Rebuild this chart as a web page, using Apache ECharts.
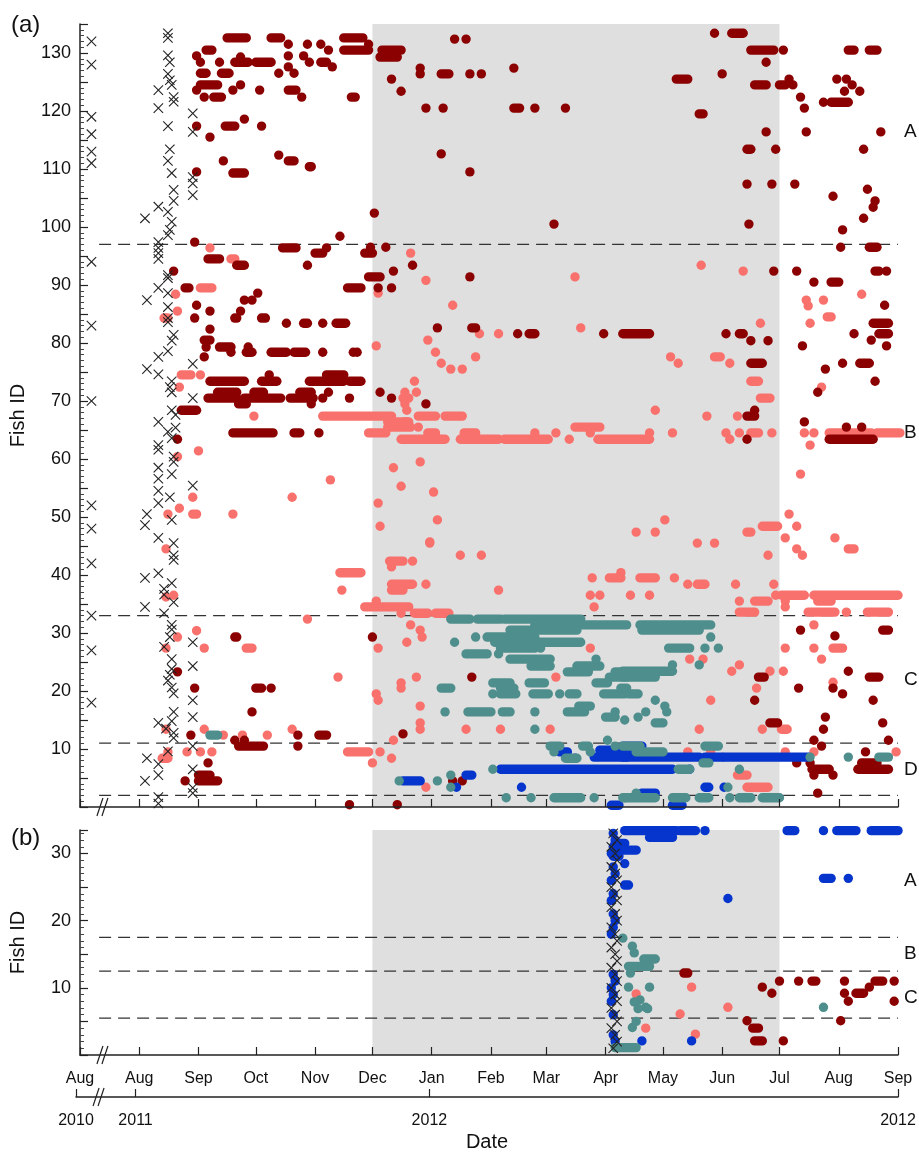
<!DOCTYPE html>
<html>
<head>
<meta charset="utf-8">
<title>Fish detections</title>
<script src="https://cdn.jsdelivr.net/npm/echarts@6.0.0/dist/echarts.min.js"></script>
<style>
  html, body { margin: 0; padding: 0; background: #fff; }
  #chart { width: 919px; height: 1157px; }
</style>
</head>
<body>
<div id="chart"></div>
<script>
// all dates are days counted from 1 Aug 2011; the 2010 release sits left of the axis break
const monthTicks = [-31, 0, 31, 61, 92, 122, 153, 184, 213, 244, 274, 305, 335, 366, 397];
const monthLabels = ['Aug', 'Aug', 'Sep', 'Oct', 'Nov', 'Dec', 'Jan', 'Feb', 'Mar', 'Apr', 'May', 'Jun', 'Jul', 'Aug', 'Sep'];
const yearTicks = [-31, 0, 153, 397];
const yearLabels = ['2010', '2011', '2012', '2012'];
const shadedPeriod = [[122, 335]];  // 1 Dec 2011 - 1 Jul 2012

const boundsA = [97, 33, 11, 2];
const boundsB = [17.5, 12.5, 5.5];
const groupNamesA = ['A', 'B', 'C', 'D'];
const groupPosA = [116.5, 64.5, 22, 6.5];
const groupNamesB = ['A', 'B', 'C'];
const groupPosB = [26, 15, 8.5];

// tagging events [fish id, day]
const taggedA = [
  [132, -25], [128, -25], [119, -25], [116, -25], [113, -25], [111, -25], [94, -25], [83, -25], [70, -25],
  [52, -25], [48, -25], [42, -25], [33, -25], [27, -25], [18, -25],
  [101.5, 3], [103.5, 10], [123.6, 10], [120.5, 10], [117.4, 15], [133.4, 15], [132.6, 15], [129.6, 15], [128.4, 16],
  [126.4, 15], [125.3, 16], [124.5, 17], [122.4, 18], [121.6, 18], [111.4, 15], [113.4, 16], [109.3, 17], [106.4, 18],
  [104.5, 18], [102.6, 15], [100.9, 17], [99.5, 16], [98.6, 15], [97.4, 10], [96.4, 10], [95.5, 10], [94.5, 10],
  [91.7, 15], [119.6, 28], [116.4, 28], [108.6, 28], [107.5, 28], [105.5, 28],
  [87.4, 4], [89.5, 10], [91.2, 15], [88.6, 15], [86.2, 15], [84.3, 15], [83.6, 15], [81.4, 18], [80.4, 17], [78.6, 15],
  [77.6, 10], [75.5, 4], [74.6, 10], [73.4, 17], [72.4, 16], [71.5, 17], [76.4, 28], [70.5, 28], [68.4, 17], [67.6, 19],
  [66.4, 10], [65.4, 19], [64.7, 15], [63.6, 17], [62.4, 10], [61.6, 10], [60.4, 18], [59.5, 18], [58.5, 10], [57.4, 17],
  [56.6, 10], [54.5, 10], [53.4, 16], [52.4, 10], [55.4, 28], [50.5, 4], [48.6, 3], [49.5, 17], [46.4, 10], [45.5, 18],
  [43.4, 18], [42.6, 18], [40.3, 10], [39.5, 3], [38.6, 17], [37.6, 13], [36.6, 13], [35.3, 18], [34.5, 3], [33.4, 13],
  [31.4, 17], [30.6, 17], [29.3, 16], [27.6, 13], [25.5, 17], [23.8, 17], [22.8, 16], [21.8, 15], [20.6, 17], [19.6, 18],
  [16.4, 18], [14.8, 17], [14.5, 10], [13.5, 14], [12.8, 18], [11.9, 18], [8.4, 4], [7.4, 10], [5.5, 10], [4.5, 3],
  [1.7, 10], [0.6, 10], [28.4, 28], [24.3, 28], [18.4, 28], [15.5, 28], [10.5, 28], [6.5, 28], [3.3, 28], [2.4, 28], [9.6, 15]
];
const taggedB = [
  [33, 248], [32, 250], [31, 247], [30, 249], [29, 250], [28, 247], [27, 249], [26, 250], [25, 247], [24, 249], [23, 250],
  [22, 247], [21, 249], [20, 250], [19, 247], [18, 249], [17, 250], [16, 247], [15, 249], [14, 250], [13, 247], [12, 249],
  [11, 250], [10, 247], [9, 249], [8, 250], [7, 247], [6, 249], [5, 250], [4, 247], [3, 249], [2, 250], [1, 248]
];

// detections [fish id, first day, last day] (single day when last is missing)
const darkRedA = [
  [129.5, 30], [128.4, 32], [130.5, 35, 38], [126.5, 32, 35], [123.6, 30], [124.5, 32, 41], [122.4, 34], [122.4, 39, 43],
  [128.4, 42], [126.5, 43, 47], [132.6, 46, 56], [128.4, 50, 57], [129.3, 53], [123.6, 49], [124.5, 53], [128.4, 61, 69],
  [123.6, 63], [132.6, 69, 74], [126.5, 73], [131.5, 78], [129.5, 78], [127.6, 78], [126.5, 81], [123.6, 78, 82],
  [122.4, 85], [129.5, 86], [128.4, 89], [131.5, 88], [131.5, 95], [130.5, 99], [128.4, 95, 98], [127.6, 101],
  [132.6, 107, 117], [130.5, 107, 120], [131.5, 120], [122.4, 111, 113],
  [117.4, 30], [115.5, 37], [117.4, 45, 50], [118.6, 55], [117.4, 64], [111.4, 44], [109.3, 49, 55], [112.4, 73],
  [111.4, 78, 81], [110.4, 89, 90], [109.5, 30],
  [97.4, 29], [94.5, 36, 42], [93.4, 51, 55], [96.4, 75, 82], [93.4, 88], [95.5, 92, 96], [96.4, 98], [98.4, 105], [92.4, 18],
  [130.5, 127, 137], [129.3, 126, 135], [132.4, 165], [132.4, 171], [127.4, 147], [126.4, 147], [126.4, 158, 162],
  [126.4, 173], [126.4, 179], [127.4, 196], [125.5, 132], [123.4, 137], [120.5, 150], [120.5, 159], [120.5, 196, 199],
  [120.5, 207], [120.5, 223], [112.6, 158], [109.5, 173], [102.4, 123], [100.5, 217],
  [95.5, 118, 122], [96.5, 121], [96.5, 129], [93.4, 143], [92.4, 133], [91.4, 120, 126], [91.4, 173],
  [133.4, 301], [133.4, 310, 316], [130.5, 320, 332], [130.5, 337], [130.5, 371, 374], [130.5, 382, 386], [128.4, 328],
  [125.5, 281, 287], [126.4, 305], [124.5, 322, 328], [124.5, 335, 338], [125.5, 340], [124.5, 342], [122.4, 346],
  [120.5, 348], [121.5, 358], [121.5, 362, 371], [125.5, 365], [125.5, 370], [124.5, 373], [123.4, 369], [123.4, 377],
  [119.5, 293, 295], [116.4, 328], [116.4, 349], [116.4, 388], [113.4, 318, 320], [113.4, 333], [113.4, 379],
  [107.4, 318], [107.4, 331], [107.4, 343], [105.3, 363], [106.5, 381], [104.5, 385], [103.4, 384], [101.5, 379],
  [99.5, 368], [100.5, 319], [96.5, 367], [96.5, 382, 386], [92.4, 332], [92.4, 344], [92.4, 385, 387], [92.4, 391],
  [89.5, 24, 26], [86.5, 30], [85.5, 37], [84.3, 29], [82.4, 37], [80.5, 34, 37], [79.3, 35], [77.6, 34], [84.3, 50, 51],
  [85.5, 53], [87.4, 55], [87.4, 59], [88.6, 62], [84.3, 64, 66], [83.4, 77], [83.4, 86, 88], [83.4, 96], [83.4, 103, 108],
  [79.3, 42, 48], [78.4, 48], [78.4, 56, 59], [79.3, 57], [78.4, 69, 77], [78.4, 81, 87], [78.4, 96], [78.4, 112],
  [73.4, 37, 55], [73.4, 64, 72], [73.4, 89, 107], [74.5, 98, 107], [74.5, 68], [73.4, 110, 116], [70.5, 36, 51],
  [70.5, 55, 74], [70.5, 79, 91], [70.5, 96], [70.5, 110], [71.5, 41, 51], [71.5, 60, 65], [71.5, 84, 90], [71.5, 99],
  [69.5, 52, 56], [69.5, 90], [68.4, 22, 30], [63.4, 20], [64.5, 49, 70], [64.5, 81, 84], [64.5, 94], [89.5, 109, 116],
  [89.5, 125], [89.5, 132], [82.6, 156], [82.6, 174, 176], [81.6, 198], [81.6, 204, 207], [81.6, 243], [81.6, 253, 267],
  [78.4, 114], [71.5, 126], [70.5, 132], [69.5, 150],
  [81.6, 307], [81.6, 314, 316], [80.4, 320], [80.4, 329], [76.5, 320, 326], [67.4, 318, 322], [68.4, 322], [63.4, 318],
  [90.5, 353], [90.5, 362, 366], [86.5, 390], [83.4, 384, 392], [81.6, 387, 392], [81.6, 374], [80.5, 383], [79.5, 391],
  [79.5, 347], [76.5, 368], [76.5, 377, 382], [73.4, 385], [75.5, 359], [71.5, 355], [66.4, 348], [63.4, 361, 384],
  [65.5, 370], [65.5, 378],
  [23.3, 20], [29.3, 50, 51], [20.5, 29], [20.5, 61, 64], [20.5, 69], [16.4, 59], [12.4, 27], [11.5, 50], [11.5, 55],
  [10.5, 52, 65], [12.4, 83], [10.5, 83], [12.4, 94, 98], [4.5, 24], [5.5, 31, 37], [4.5, 31, 41], [7.6, 36], [0.4, 110],
  [29.3, 122], [22.4, 174], [12.6, 138], [4.5, 164], [4.5, 169], [0.4, 135],
  [30.5, 346], [29.5, 364], [30.5, 389, 392], [22.4, 324, 327], [18.4, 322], [20.5, 345], [20.5, 363], [19.5, 368],
  [23.4, 371], [22.4, 382, 387], [18.4, 384], [14.5, 330, 334], [15.5, 359], [13.4, 358], [14.5, 389], [11.5, 353],
  [10.5, 357], [11.5, 392], [9.5, 380], [7.6, 344], [7.6, 351], [6.5, 352, 361], [5.5, 353], [5.5, 363], [6.5, 376, 392],
  [7.6, 378, 386], [2.4, 355]
];
const salmonA = [
  [96.4, 37], [94.5, 48, 50], [95.5, 142], [91.4, 228], [90.8, 150], [93.4, 294], [92.4, 316],
  [88.4, 19], [85.5, 20], [84.3, 13, 15], [89.5, 32, 38], [74.5, 22, 27], [74.5, 32], [72.4, 21], [67.4, 60],
  [67.4, 96, 132], [61.4, 31], [60.4, 20], [56.4, 100], [53.4, 80], [53.4, 28], [51.5, 21], [50.5, 15], [50.5, 28, 30],
  [50.5, 49],
  [88.6, 125], [86.5, 164], [79.5, 124], [80.5, 151], [78.4, 155], [76.5, 158], [75.5, 163], [75.5, 169], [77.6, 176],
  [81.6, 178], [81.6, 188], [82.6, 231], [73.4, 144], [71.5, 139], [71.5, 145], [70.5, 138, 141], [69.5, 139],
  [68.4, 140], [66.4, 139, 141], [65.5, 130, 142], [66.4, 130, 140], [64.5, 120, 129], [67.4, 146, 155],
  [67.4, 160, 169], [65.5, 146], [63.4, 137, 160], [64.5, 151, 155], [63.4, 168, 188], [64.5, 170, 176],
  [63.4, 191, 214], [64.5, 207], [64.5, 218], [63.4, 225], [65.5, 228, 241], [64.5, 236], [63.4, 240, 267],
  [58.5, 133], [59.5, 147], [55.3, 137], [54.3, 154], [52.4, 125], [49.5, 156], [48.4, 126], [45.7, 152],
  [83.4, 325], [87.4, 349], [86.4, 350], [87.4, 358], [88.4, 378], [83.4, 351], [84.5, 360, 362], [77.6, 278],
  [76.5, 282], [77.6, 301, 304], [76.5, 309], [73.4, 320, 324], [70.5, 325, 330], [72.4, 357], [68.4, 270],
  [67.4, 297], [67.4, 313], [64.5, 267], [64.5, 279], [64.5, 307], [63.4, 309], [64.5, 314], [64.5, 320, 324],
  [64.5, 331], [64.5, 348], [64.5, 353], [64.5, 361, 383], [64.5, 386, 398], [62.4, 351], [57.4, 346], [50.5, 340],
  [48.4, 344], [46.4, 338], [46.4, 364], [49.5, 275], [47.4, 270], [47.4, 260], [45.5, 292], [45.5, 301],
  [47.4, 318, 320], [48.4, 326, 334],
  [44.5, 14], [40.4, 105, 116], [37.4, 106], [36.2, 14], [36.5, 18], [32.4, 88], [30.4, 30], [29.3, 20], [27.4, 34],
  [27.4, 56, 59], [27.4, 14], [22.4, 104], [13.4, 14], [13.4, 34], [9.5, 25], [9.5, 32], [9.5, 38], [8.4, 12, 15],
  [9.5, 15], [12.4, 44], [12.4, 54], [12.4, 67], [13.4, 80], [9.5, 109, 120],
  [42.4, 131, 138], [41.4, 132], [42.4, 143], [43.4, 168], [43.4, 179], [45.5, 152], [38.4, 132, 143],
  [37.4, 132, 138], [38.4, 150], [37.4, 188], [34.5, 118, 141], [35.5, 124], [33.4, 144, 151], [33.4, 155, 162],
  [33.4, 137], [31.4, 142], [30.5, 147], [29.3, 148], [28.4, 140], [27.4, 125], [22.4, 145], [21.4, 137], [20.5, 137],
  [19.5, 124], [18.4, 125], [17.4, 147], [14.5, 147], [13.4, 147], [13.4, 171], [13.4, 189], [13.4, 215], [22.4, 218],
  [27.4, 236], [11.5, 133], [9.5, 126], [8.4, 132], [7.6, 122], [3.4, 150], [39.5, 237], [39.5, 246, 252], [40.4, 252],
  [36.5, 236], [36.5, 241], [34.5, 238],
  [43.4, 329], [44.5, 344], [43.4, 347], [44.5, 371, 374], [39.5, 262, 270], [39.5, 280], [38.4, 287], [38.4, 292, 296],
  [38.4, 312], [38.4, 332], [36.5, 257], [36.5, 267], [35.5, 314], [35.5, 322, 329], [36.5, 333], [36.5, 336, 348],
  [35.5, 338], [34.5, 338], [36.5, 353, 397], [35.5, 355, 362], [33.6, 314, 322], [33.6, 350, 364], [33.6, 370],
  [33.6, 381, 392], [31.4, 353], [27.4, 338], [27.4, 353], [27.4, 363, 368], [25.5, 357], [25.5, 288], [25.5, 295],
  [23.4, 310], [24.5, 314], [23.4, 330], [23.4, 337], [20.5, 323], [21.5, 363], [18.4, 299], [13.4, 293], [13.4, 326],
  [13.4, 336, 339], [9.5, 287], [9.5, 299], [9.5, 338], [9.5, 353], [9.5, 396], [5.5, 313, 318], [3.4, 318, 329]
];
const tealA = [
  [12.4, 37, 41],
  [32.4, 163, 173], [32.4, 177, 189], [32.4, 191, 231], [31.4, 207, 255], [30.5, 194, 229], [29.3, 182, 207],
  [28.4, 186, 231], [28.4, 165], [29.3, 176], [27.4, 189, 207], [27.4, 210], [26.4, 171, 182], [26.4, 188],
  [25.5, 194, 215], [24.3, 205, 215], [23.3, 224, 235], [24.3, 229, 241], [25.5, 239], [22.4, 246, 255],
  [23.3, 249, 255], [20.5, 158, 163], [21.4, 185, 194], [20.5, 189, 196], [19.5, 185], [19.5, 189, 197],
  [21.4, 204, 212], [19.5, 206, 214], [19.5, 220], [19.5, 225, 229], [21.4, 239, 245], [19.5, 243, 254],
  [20.5, 252, 255], [16.4, 160], [16.4, 172, 184], [16.4, 190, 194], [16.4, 207], [16.4, 224, 233], [17.4, 230, 236],
  [15.5, 244, 249], [16.4, 249], [15, 254], [13.4, 207],
  [31.4, 262, 299], [30.5, 263, 293], [29.3, 299], [27.4, 277, 288], [27.4, 296], [27.4, 303], [24.5, 293],
  [23.4, 253, 279], [22.4, 253, 270], [24.5, 279], [19.5, 256, 261], [18.4, 270], [17.4, 275], [16.4, 276],
  [16.4, 265], [15.5, 261], [14.5, 270, 274],
  [4.5, 136], [4.5, 156], [5.5, 163], [3.4, 163], [6.5, 185], [1.6, 192], [1.6, 205], [1.6, 217, 231], [1.6, 238],
  [1.6, 254], [10.5, 215, 220], [9.5, 217], [8.4, 223, 229], [10.5, 232, 235], [11.5, 245], [9.5, 236], [10.5, 249],
  [10.5, 253, 262], [9.5, 260, 274], [10.5, 296, 303], [7.6, 295, 298], [6.5, 282, 288], [6.5, 314], [8.6, 351],
  [8.6, 371], [8.6, 387, 392], [3.4, 308], [2.4, 260], [1.6, 253, 270], [1.6, 279, 286], [1.6, 293, 298], [1.6, 309],
  [1.6, 314, 320], [1.6, 326, 335]
];
const blueA = [
  [4.5, 138, 147], [3.4, 166], [5.5, 171, 174], [6.5, 189, 279], [6.5, 288], [3.4, 200], [0.3, 247, 251],
  [9.5, 220, 224], [8.4, 228], [8.6, 238, 255], [9.8, 241, 255], [8.6, 253, 293], [9.8, 253, 263], [10.5, 253, 263],
  [8.6, 296, 305], [8.6, 306, 350], [2.4, 263, 270], [3.4, 296, 298], [3.4, 306], [0.3, 279, 284]
];

const blueB = [
  [33.4, 254, 281], [32.4, 267, 279], [33.4, 283, 291], [33.4, 296], [31.5, 249, 254], [30.5, 250, 260], [28.5, 254],
  [29.6, 248, 251], [25.3, 254, 256], [23.3, 308], [33.4, 339, 343], [33.4, 358], [33.4, 365, 375], [33.4, 383, 397],
  [26.3, 358, 362], [26.3, 371], [2.1, 263], [2.1, 289],
  [33, 248], [32, 249], [31, 248], [30, 247], [28, 248], [27, 249], [26, 247], [24, 248], [23, 247], [21, 248],
  [20, 249], [19, 248], [18, 247], [12, 248], [11, 249], [10, 247], [9, 248], [8, 247], [6, 248], [3, 248], [2, 249]
];
const tealB = [
  [17.4, 253], [16.2, 258], [15.2, 259], [14.3, 264, 270], [13.2, 256, 267], [12.2, 257], [10.1, 256], [10.1, 267],
  [8.2, 262], [7.1, 265], [7.1, 358], [1.1, 249, 260], [4.1, 258], [5, 260], [6.9, 261], [7.9, 259], [6.9, 266]
];
const salmonB = [
  [10.1, 289], [9.1, 260], [7.1, 308], [4, 265], [6.1, 283], [3.1, 291]
];
const darkRedB = [
  [12.2, 285, 287], [10.1, 326], [9.2, 331], [11, 335], [11, 345], [11, 352, 354], [11, 369], [9.2, 369], [8, 371],
  [9.2, 375, 379], [10.1, 382], [11, 385, 389], [11, 395], [8, 395], [5.1, 318], [4, 321, 324], [2.1, 322, 326],
  [2.1, 337], [5.1, 367]
];

const FONT = 'Liberation Sans, Arial, sans-serif';
const DOT = 4.7;
const X_MIN = -31;
const X_MAX = 397;
const BREAK_AT = -19;      // where the // marks sit
const LINE_START = -21;    // dashed group lines start here

const norm = rows => rows.map(r => [r[0], r[1], r.length > 2 ? r[2] : r[1]]);

function runSeries (rows, color, panel) {
  return {
    type: 'custom',
    xAxisIndex: panel,
    yAxisIndex: panel,
    z: 4,
    silent: true,
    data: norm(rows),
    encode: { x: [1, 2], y: 0 },
    renderItem (params, api) {
      const a = api.coord([api.value(1), api.value(0)]);
      const b = api.coord([api.value(2), api.value(0)]);
      return {
        type: 'rect',
        shape: { x: a[0] - DOT, y: a[1] - DOT, width: b[0] - a[0] + DOT * 2, height: DOT * 2, r: DOT },
        style: { fill: color }
      };
    }
  };
}

function crossSeries (rows, panel) {
  return {
    type: 'custom',
    xAxisIndex: panel,
    yAxisIndex: panel,
    z: 6,
    silent: true,
    data: rows.map(r => [r[1], r[0]]),
    encode: { x: 0, y: 1 },
    renderItem (params, api) {
      const p = api.coord([api.value(0), api.value(1)]);
      const s = 4.7;
      const st = { stroke: '#222', lineWidth: 1.1 };
      return {
        type: 'group',
        children: [
          { type: 'line', shape: { x1: p[0] - s, y1: p[1] - s, x2: p[0] + s, y2: p[1] + s }, style: st },
          { type: 'line', shape: { x1: p[0] - s, y1: p[1] + s, x2: p[0] + s, y2: p[1] - s }, style: st }
        ]
      };
    }
  };
}

function shadeSeries (panel, top) {
  return {
    type: 'custom',
    xAxisIndex: panel,
    yAxisIndex: panel,
    z: 1,
    silent: true,
    data: shadedPeriod,
    encode: { x: [0, 1] },
    renderItem (params, api) {
      const a = api.coord([api.value(0), top]);
      const b = api.coord([api.value(1), 0]);
      return {
        type: 'rect',
        shape: { x: a[0], y: a[1], width: b[0] - a[0], height: b[1] - a[1] },
        style: { fill: '#dfdfdf' }
      };
    }
  };
}

function boundSeries (bounds, panel) {
  return {
    type: 'custom',
    xAxisIndex: panel,
    yAxisIndex: panel,
    z: 2,
    silent: true,
    data: bounds.map(v => [LINE_START, X_MAX, v]),
    encode: { x: [0, 1], y: 2 },
    renderItem (params, api) {
      const a = api.coord([api.value(0), api.value(2)]);
      const b = api.coord([api.value(1), api.value(2)]);
      return {
        type: 'line',
        shape: { x1: a[0], y1: a[1], x2: b[0], y2: b[1] },
        style: { stroke: '#333', lineWidth: 1.2, lineDash: [12, 7] }
      };
    }
  };
}

function dateAxis (grid, ticks, labels, extra) {
  return Object.assign({
    gridIndex: grid,
    type: 'value',
    min: X_MIN,
    max: X_MAX,
    z: 10,
    axisLine: { onZero: false, lineStyle: { color: '#222', width: 1.5 } },
    axisTick: { inside: true, length: 8, customValues: ticks, lineStyle: { color: '#222', width: 1.2 } },
    axisLabel: labels ? {
      customValues: ticks,
      formatter: v => labels[ticks.indexOf(v)],
      fontSize: 16,
      fontFamily: FONT,
      color: '#111',
      margin: 16,
      hideOverlap: false
    } : { show: false },
    splitLine: { show: false }
  }, extra || {});
}

function idAxis (grid, max, extra) {
  return Object.assign({
    gridIndex: grid,
    type: 'value',
    min: 0,
    max: max,
    interval: 5,
    z: 10,
    axisLine: { show: true, onZero: false, lineStyle: { color: '#222', width: 1.5 } },
    axisTick: { show: true, inside: true, length: 8, lineStyle: { color: '#222', width: 1.2 } },
    minorTick: { show: true, inside: true, splitNumber: 5, length: 4, lineStyle: { color: '#444' } },
    axisLabel: {
      formatter: v => (v > 0 && v % 10 === 0) ? String(v) : '',
      fontSize: 18,
      fontFamily: FONT,
      color: '#111',
      margin: 9
    },
    splitLine: { show: false },
    name: 'Fish ID',
    nameLocation: 'middle',
    nameGap: 52,
    nameRotate: 90,
    nameTextStyle: { fontSize: 20, fontFamily: FONT, color: '#111' }
  }, extra || {});
}

const chart = echarts.init(document.getElementById('chart'), null, { renderer: 'canvas' });

chart.setOption({
  animation: false,
  backgroundColor: '#fff',
  grid: [
    { left: 76, right: 21, top: 24, height: 783 },
    { left: 76, right: 21, top: 830, height: 225 },
    { left: 76, right: 21, top: 1096, height: 1 }
  ],
  xAxis: [
    dateAxis(0, monthTicks, null),
    dateAxis(1, monthTicks, monthLabels),
    dateAxis(2, yearTicks, yearLabels, {
      name: 'Date',
      nameLocation: 'middle',
      nameGap: 35,
      nameTextStyle: { fontSize: 20, fontFamily: FONT, color: '#111' }
    })
  ],
  yAxis: [
    idAxis(0, 135),
    idAxis(1, 33.5),
    { gridIndex: 2, type: 'value', min: 0, max: 1, show: false }
  ],
  series: [
    shadeSeries(0, 135),
    boundSeries(boundsA, 0),
    runSeries(salmonA, '#f8716c', 0),
    runSeries(darkRedA, '#8b0000', 0),
    runSeries(blueA, '#0535cc', 0),
    runSeries(tealA, '#4e8e8c', 0),
    crossSeries(taggedA, 0),

    shadeSeries(1, 33.5),
    boundSeries(boundsB, 1),
    runSeries(salmonB, '#f8716c', 1),
    runSeries(darkRedB, '#8b0000', 1),
    runSeries(blueB, '#0535cc', 1),
    runSeries(tealB, '#4e8e8c', 1),
    crossSeries(taggedB, 1)
  ]
});

// axis break marks, panel letters and group labels need pixel positions
const graphics = [];
[0, 1, 2].forEach(g => {
  const p = chart.convertToPixel({ gridIndex: g }, [BREAK_AT, 0]);
  graphics.push({
    type: 'group',
    z: 20,
    children: [
      { type: 'rect', shape: { x: p[0] - 3, y: p[1] - 2, width: 5, height: 4 }, style: { fill: '#fff' } },
      { type: 'line', shape: { x1: p[0] - 6, y1: p[1] + 9, x2: p[0], y2: p[1] - 9 }, style: { stroke: '#222', lineWidth: 1.2 } },
      { type: 'line', shape: { x1: p[0] - 1, y1: p[1] + 9, x2: p[0] + 5, y2: p[1] - 9 }, style: { stroke: '#222', lineWidth: 1.2 } }
    ]
  });
});
const addGroupLabels = (names, pos, grid) => {
  names.forEach((n, i) => {
    const p = chart.convertToPixel({ gridIndex: grid }, [X_MAX, pos[i]]);
    graphics.push({
      type: 'text', x: p[0] + 6, y: p[1], z: 20,
      style: { text: n, fontSize: 19, fontFamily: FONT, fill: '#111', align: 'left', verticalAlign: 'middle' }
    });
  });
};
addGroupLabels(groupNamesA, groupPosA, 0);
addGroupLabels(groupNamesB, groupPosB, 1);
graphics.push({ type: 'text', x: 11, y: 13, style: { text: '(a)', fontSize: 24, fontFamily: FONT, fill: '#111' } });
graphics.push({ type: 'text', x: 11, y: 826, style: { text: '(b)', fontSize: 24, fontFamily: FONT, fill: '#111' } });

chart.setOption({ graphic: graphics });
</script>
</body>
</html>
